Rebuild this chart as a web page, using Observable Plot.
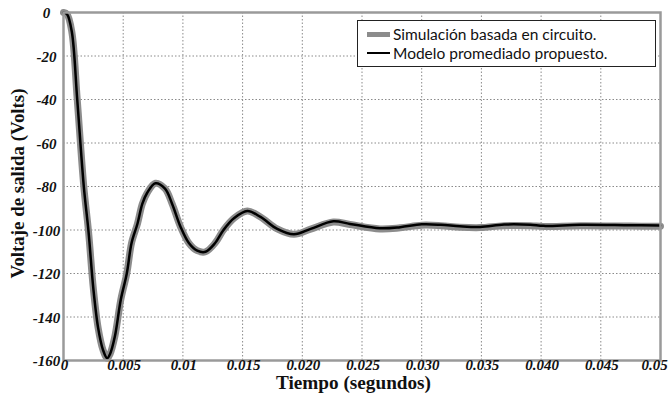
<!DOCTYPE html>
<html>
<head>
<meta charset="utf-8">
<script src="https://cdn.jsdelivr.net/npm/d3@7"></script>
<script src="https://cdn.jsdelivr.net/npm/@observablehq/plot@0.6"></script>
<style>
  html, body { margin: 0; padding: 0; background: #fff; }
  #wrap { position: relative; width: 670px; height: 401px; }
  #legend {
    position: absolute; left: 357px; top: 20px; width: 297px; height: 45px;
    border: 1.5px solid #222; background: #fff;
    font-family: Lato, "Open Sans", sans-serif; font-size: 15.5px; color: #111;
  }
  .row { position: absolute; left: 9px; height: 18px; display: flex; align-items: center; }
  .sw { width: 23px; margin-right: 3px; }
</style>
</head>
<body>
<div id="wrap">
  <div id="chart"></div>
  <div id="legend">
    <div class="row" style="top:4px"><div class="sw" style="height:5px;background:#8c8c8c"></div><span>Simulación basada en circuito.</span></div>
    <div class="row" style="top:23px"><div class="sw" style="height:2px;background:#000"></div><span>Modelo promediado propuesto.</span></div>
  </div>
</div>
<script>
const tiempo = [0, 0.0003, 0.0007, 0.00115, 0.0017, 0.0021, 0.0025, 0.0029, 0.0033, 0.00366, 0.0039, 0.0043, 0.0048, 0.0053, 0.0057, 0.0062, 0.0066, 0.0070, 0.0077, 0.0085, 0.0091, 0.0098, 0.0105, 0.0112, 0.0119, 0.0127, 0.0134, 0.0143, 0.0154, 0.0165, 0.0179, 0.0193, 0.0207, 0.0226, 0.0240, 0.0265, 0.0282, 0.0300, 0.0316, 0.0332, 0.0349, 0.0369, 0.0391, 0.0402, 0.0433, 0.0475, 0.05];
const modelo = [0, -0.8, -9, -40, -80, -101, -127, -145, -155, -159, -157, -149, -132, -120, -106, -97, -88, -83, -78.5, -81, -88, -98.5, -106, -109.5, -110, -106, -100, -94.5, -91.3, -94, -99.5, -102, -99.5, -96, -97.2, -99.2, -98.7, -97.4, -97.6, -98.3, -98.6, -97.5, -97.6, -98.1, -97.6, -97.8, -97.9];
const simulacion = [0, -0.8, -9, -40, -80, -101, -127, -145, -155, -159, -157, -149, -132, -120, -106, -97, -88, -83, -78.5, -81, -88, -98.5, -106, -109.5, -110, -106, -100, -94.5, -91.3, -94, -99.5, -102, -99.6, -96.3, -97.5, -99.5, -99.0, -97.8, -98.0, -98.7, -98.9, -98.0, -98.0, -98.4, -98.0, -98.2, -98.3];
const xTicks = [0, 0.005, 0.01, 0.015, 0.020, 0.025, 0.030, 0.035, 0.040, 0.045, 0.05];
const xTickLabels = ["0", "0.005", "0.01", "0.015", "0.020", "0.025", "0.030", "0.035", "0.040", "0.045", "0.05"];
const yTicks = [0, -20, -40, -60, -80, -100, -120, -140, -160];
const xLabel = "Tiempo (segundos)";
const yLabel = "Voltaje de salida (Volts)";

const data = tiempo.map((t, i) => ({t, mod: modelo[i], sim: simulacion[i]}));
const serif = "'Liberation Serif', 'DejaVu Serif', serif";
const tickFont = {fontFamily: serif, fontSize: 15, fontWeight: "bold", fontStyle: "italic", fill: "#111"};
const fmtX = d => xTickLabels[xTicks.indexOf(d)];
const lastX = xTicks[xTicks.length - 1];

const chart = Plot.plot({
  width: 670, height: 401,
  marginLeft: 63, marginRight: 10, marginTop: 12, marginBottom: 41,
  style: {background: "#fff", fontFamily: serif},
  x: {domain: [0, 0.05], axis: null},
  y: {domain: [-160, 0], axis: null},
  marks: [
    Plot.gridX(xTicks, {stroke: "#8a8a8a", strokeOpacity: 1, strokeDasharray: "1.5,2", strokeWidth: 1}),
    Plot.gridY(yTicks, {stroke: "#8a8a8a", strokeOpacity: 1, strokeDasharray: "1.5,2", strokeWidth: 1}),
    Plot.line(data, {x: "t", y: "sim", stroke: "#8c8c8c", strokeWidth: 7, curve: "catmull-rom"}),
    Plot.line(data, {x: "t", y: "mod", stroke: "#000", strokeWidth: 2.5, curve: "catmull-rom"}),
    Plot.frame({stroke: "#9a9a9a", strokeWidth: 2.5}),
    Plot.text(xTicks.slice(0, -1), {x: d => d, frameAnchor: "bottom", dy: 9, dx: 1, text: fmtX, ...tickFont}),
    Plot.text([lastX], {x: d => d, frameAnchor: "bottom", dy: 9, dx: -6, text: fmtX, ...tickFont}),
    Plot.text(yTicks, {y: d => d, frameAnchor: "left", dx: -17, dy: 1, textAnchor: "middle", text: d => String(d), ...tickFont}),
    Plot.text([xLabel], {frameAnchor: "bottom", dy: 28, dx: -86, textAnchor: "start", text: d => d, fontFamily: serif, fontSize: 19, fontWeight: "bold", fill: "#111", className: "xlab"}),
    Plot.text([yLabel], {frameAnchor: "left", dx: -45, dy: 92, rotate: -90, textAnchor: "start", text: d => d, fontFamily: serif, fontSize: 18, fontWeight: "bold", fill: "#111", className: "ylab"})
  ]
});
document.getElementById("chart").appendChild(chart);
// stretch axis titles to the reference's lengths
chart.querySelectorAll(".xlab text").forEach(t => { t.setAttribute("textLength", 155); t.setAttribute("lengthAdjust", "spacingAndGlyphs"); });
chart.querySelectorAll(".ylab text").forEach(t => { t.setAttribute("textLength", 190); t.setAttribute("lengthAdjust", "spacingAndGlyphs"); });
</script>
</body>
</html>
